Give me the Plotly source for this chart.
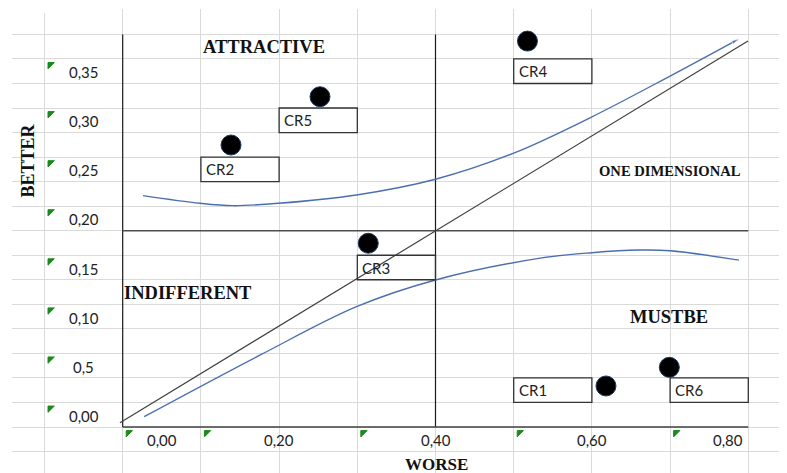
import plotly.graph_objects as go

# ---- data ----
cr_names = ["CR1", "CR2", "CR3", "CR4", "CR5", "CR6"]
worse = [0.618, 0.1385, 0.314, 0.5176, 0.2523, 0.699]
better = [0.0418, 0.2873, 0.1872, 0.3932, 0.3365, 0.0608]

# label cells (lower-left corner of each label box)
box_x0 = [0.5, 0.1, 0.3, 0.5, 0.2, 0.7]
box_y0 = [0.025, 0.25, 0.15, 0.35, 0.30, 0.025]

# upper (attractive / one-dimensional) boundary curve
upper_x = [0.026, 0.099, 0.141, 0.199, 0.299, 0.40, 0.50, 0.60, 0.70, 0.787]
upper_y = [0.2357, 0.2279, 0.2255, 0.2279, 0.2364, 0.2524, 0.279, 0.316, 0.3576, 0.395]

# lower (must-be / indifferent) boundary curve
lower_x = [0.0275, 0.176, 0.299, 0.40, 0.534, 0.60, 0.661, 0.70, 0.788]
lower_y = [0.0105, 0.0734, 0.1226, 0.1498, 0.172, 0.1776, 0.1803, 0.1796, 0.170]

# diagonal reference line
diag_x = [-0.0035, 0.7996]
diag_y = [0.0044, 0.3933]

# tick labels
y_tick_vals = [0.0, 0.05, 0.10, 0.15, 0.20, 0.25, 0.30, 0.35]
y_tick_text = ["0,00", "0,5", "0,10", "0,15", "0,20", "0,25", "0,30", "0,35"]
x_tick_vals = [0.0, 0.2, 0.4, 0.6, 0.8]
x_tick_text = ["0,00", "0,20", "0,40", "0,60", "0,80"]
x_label_pos = [0.05, 0.2, 0.4, 0.6, 0.796]
x_label_anchor = ["center", "center", "center", "center", "right"]

# quadrant captions
quad_text = ["ATTRACTIVE", "ONE DIMENSIONAL", "INDIFFERENT", "MUSTBE"]
quad_x = [0.1807, 0.70, 0.0839, 0.6992]
quad_y = [0.3875, 0.2608, 0.1365, 0.1116]
quad_size = [18.5, 14.6, 18.5, 18.5]

# green cell-indicator corners
tri_x = [-0.1] * 8 + [0.0, 0.1, 0.3, 0.5, 0.7]
tri_y = [v + 0.025 for v in y_tick_vals] + [0.0] * 5

SERIF = "Liberation Serif, Times New Roman, serif"
SANS = "Lato, Open Sans, sans-serif"

fig = go.Figure()

fig.add_trace(go.Scatter(
    x=diag_x, y=diag_y, mode="lines",
    line=dict(color="#404040", width=1.2), hoverinfo="skip"))

fig.add_trace(go.Scatter(
    x=upper_x, y=upper_y, mode="lines+markers",
    line=dict(color="#4a6fb0", width=1.4, shape="spline", smoothing=1.0),
    marker=dict(symbol="arrow", angleref="previous", color="#4a6fb0",
                size=[0] * (len(upper_x) - 1) + [7]),
    hoverinfo="skip"))

fig.add_trace(go.Scatter(
    x=lower_x, y=lower_y, mode="lines",
    line=dict(color="#4a6fb0", width=1.4, shape="spline", smoothing=1.0),
    hoverinfo="skip"))

fig.add_trace(go.Scatter(
    x=worse, y=better, mode="markers", text=cr_names,
    marker=dict(size=20, color="#000000", line=dict(color="#1f3864", width=1)),
    hovertemplate="%{text}: %{x}, %{y}<extra></extra>"))

# green triangles (offset so the right-angle corner sits at the cell corner)
fig.add_trace(go.Scatter(
    x=[v + 0.0072 for v in tri_x], y=[v - 0.0058 for v in tri_y], mode="markers",
    marker=dict(symbol="triangle-nw", size=7, color="#1b8a1b",
                line=dict(color="#1b8a1b", width=1)),
    hoverinfo="skip"))

shapes = []
# frame lines
frame = dict(type="line", xref="x", yref="y", layer="between")
shapes.append(dict(frame, x0=0, x1=0, y0=0, y1=0.40, line=dict(color="#1a1a1a", width=1.2)))
shapes.append(dict(frame, x0=0.4, x1=0.4, y0=0, y1=0.40, line=dict(color="#1a1a1a", width=1.2)))
shapes.append(dict(frame, x0=0, x1=0.8, y0=0.2, y1=0.2, line=dict(color="#4d4d4d", width=1.6)))
shapes.append(dict(frame, x0=0, x1=0.8, y0=0, y1=0, line=dict(color="#404040", width=1.4)))
# hide top grid row left part
shapes.append(dict(type="rect", xref="x", yref="y", x0=-0.2, x1=-0.028, y0=0.4215, y1=0.45,
                   fillcolor="white", line=dict(width=0), layer="between"))
# label boxes
for bx, by in zip(box_x0, box_y0):
    shapes.append(dict(type="rect", xref="x", yref="y", x0=bx, x1=bx + 0.1, y0=by, y1=by + 0.025,
                       line=dict(color="#333333", width=1.3), fillcolor="rgba(0,0,0,0)", layer="above"))

annotations = []
for name, bx, by in zip(cr_names, box_x0, box_y0):
    annotations.append(dict(x=bx, y=by + 0.0125, text=name, showarrow=False, xanchor="left",
                            yanchor="middle", xshift=3, font=dict(family=SANS, size=15, color="#222222")))
for v, t in zip(y_tick_vals, y_tick_text):
    annotations.append(dict(x=-0.05, y=v + 0.0125, text=t, showarrow=False, xanchor="center",
                            yanchor="middle", yshift=-1, font=dict(family=SANS, size=15, color="#222222")))
for p, t, a in zip(x_label_pos, x_tick_text, x_label_anchor):
    annotations.append(dict(x=p, y=-0.0125, text=t, showarrow=False, xanchor=a,
                            yanchor="middle", yshift=-1, font=dict(family=SANS, size=15, color="#222222")))
for t, qx, qy, qs in zip(quad_text, quad_x, quad_y, quad_size):
    annotations.append(dict(x=qx, y=qy, text=t, showarrow=False, xanchor="center", yanchor="middle",
                            font=dict(family=SERIF, size=qs, color="#111111", weight=700)))
annotations.append(dict(x=0.4015, y=-0.0377, text="WORSE", showarrow=False, xanchor="center",
                        yanchor="middle", font=dict(family=SERIF, size=17, color="#111111", weight=700)))
annotations.append(dict(x=-0.1217, y=0.271, text="BETTER", showarrow=False, textangle=-90,
                        xanchor="center", yanchor="middle",
                        font=dict(family=SERIF, size=18, color="#111111", weight=700)))

# page body has an 8px default margin, so the figure is shrunk/shifted by 8px
fig.update_layout(
    width=779, height=465,
    margin=dict(l=4, r=0, t=1, b=0, pad=0),
    paper_bgcolor="white", plot_bgcolor="white",
    showlegend=False,
    shapes=shapes, annotations=annotations,
    xaxis=dict(range=[-0.14156, 0.84949], tick0=0, dtick=0.1, showgrid=True,
               gridcolor="#dadada", gridwidth=1, zeroline=False, showticklabels=False,
               ticks="", showline=False, fixedrange=True),
    yaxis=dict(range=[-0.04687, 0.42588], tick0=0, dtick=0.025, showgrid=True,
               gridcolor="#dadada", gridwidth=1, zeroline=False, showticklabels=False,
               ticks="", showline=False, fixedrange=True),
)

fig.write_html("out.html")
